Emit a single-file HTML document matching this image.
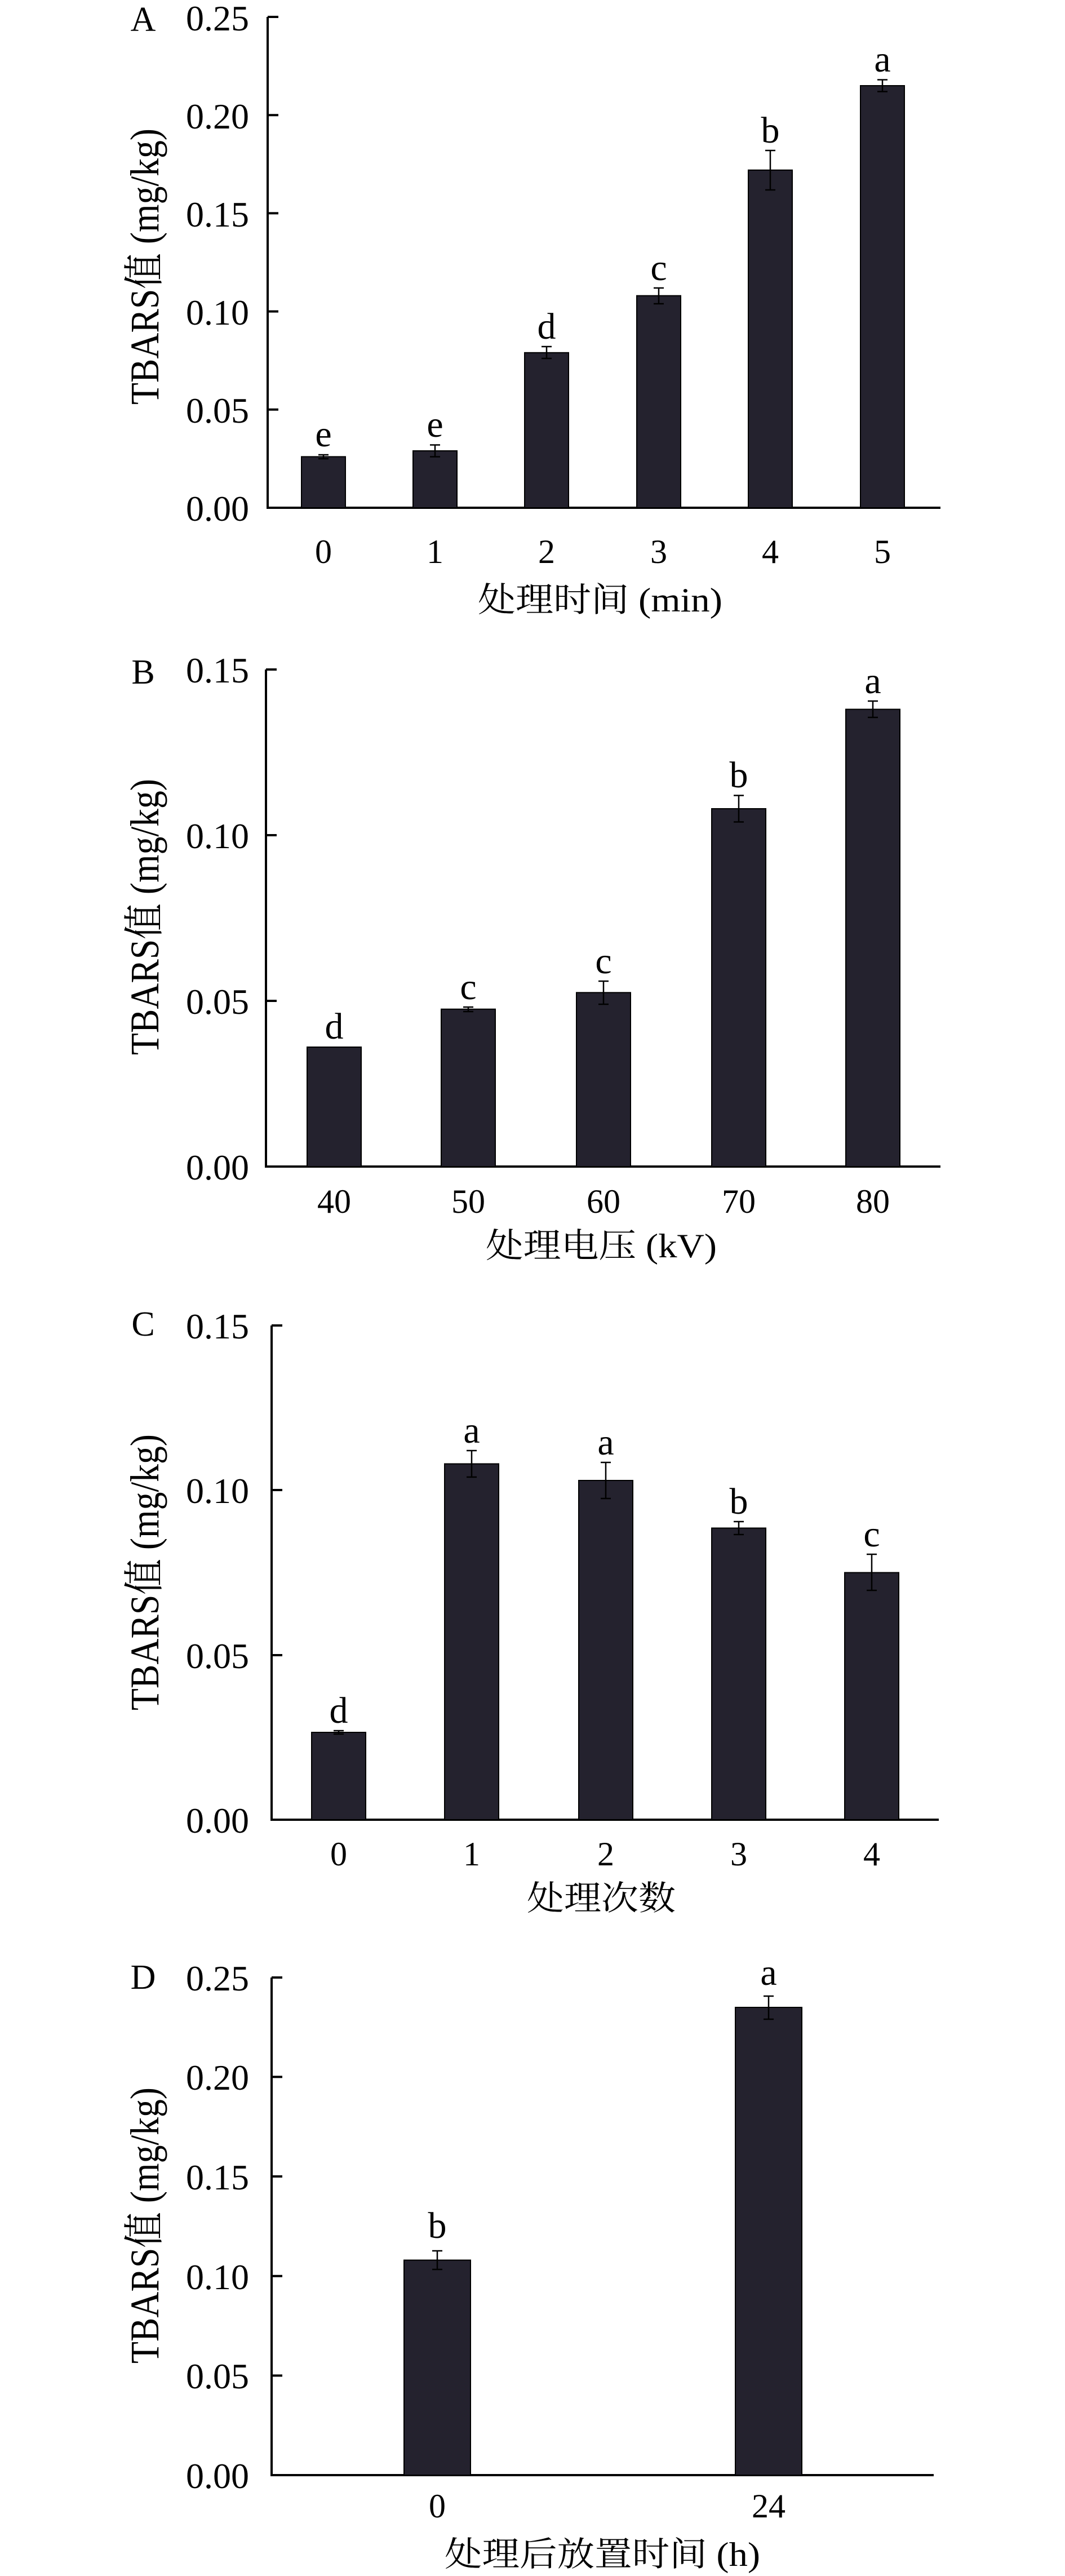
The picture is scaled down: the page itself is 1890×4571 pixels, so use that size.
<!DOCTYPE html>
<html><head><meta charset="utf-8"><style>
html,body{margin:0;padding:0;background:#fff}
svg{display:block}
text{font-family:"Liberation Serif","Noto Serif CJK SC","Noto Sans CJK SC",serif;fill:#000}
.t{font-size:64px;text-anchor:end}
.x{font-size:60px;text-anchor:middle}
.l{font-size:66px;text-anchor:middle}
.p{font-size:62px;text-anchor:middle}
.xl{font-size:60px;text-anchor:middle}
.yl{font-size:72px;text-anchor:middle}
.b{fill:#24222e;stroke:#000;stroke-width:2}
.ax{stroke:#000;stroke-width:4;fill:none}
.e{stroke:#000;stroke-width:2.5;fill:none}
</style></head><body>
<svg width="1890" height="4571" viewBox="0 0 1890 4571" xmlns="http://www.w3.org/2000/svg">
<!-- Panel A -->
<g>
<path class="ax" d="M475 30 V901 H1669 M475 30 H494 M475 204.2 H494 M475 378.4 H494 M475 552.6 H494 M475 726.8 H494"/>
<text class="t" x="442" y="54">0.25</text>
<text class="t" x="442" y="228">0.20</text>
<text class="t" x="442" y="402">0.15</text>
<text class="t" x="442" y="576">0.10</text>
<text class="t" x="442" y="750">0.05</text>
<text class="t" x="442" y="924">0.00</text>
<text class="p" x="254" y="55">A</text>
<text class="yl" transform="translate(281,473) rotate(-90)" textLength="490" lengthAdjust="spacingAndGlyphs">TBARS值 (mg/kg)</text>
<rect class="b" x="535" y="810.4" width="78" height="90.6"/>
<rect class="b" x="733" y="800" width="78" height="101"/>
<rect class="b" x="931" y="625.8" width="78" height="275.2"/>
<rect class="b" x="1130" y="524.7" width="78" height="376.3"/>
<rect class="b" x="1328" y="301.8" width="78" height="599.2"/>
<rect class="b" x="1527" y="152" width="78" height="749"/>
<path class="e" d="M574 807V814M565 807H583M565 814H583 M772 789.5V810.5M763 789.5H781M763 810.5H781 M970 615V636M961 615H979M961 636H979 M1169 511V539M1160 511H1178M1160 539H1178 M1367 267V337M1358 267H1376M1358 337H1376 M1566 141.5V162.5M1557 141.5H1575M1557 162.5H1575"/>
<text class="l" x="574" y="792">e</text>
<text class="l" x="772" y="775">e</text>
<text class="l" x="970" y="601">d</text>
<text class="l" x="1169" y="497">c</text>
<text class="l" x="1367" y="253">b</text>
<text class="l" x="1566" y="127">a</text>
<text class="x" x="574" y="999">0</text>
<text class="x" x="772" y="999">1</text>
<text class="x" x="970" y="999">2</text>
<text class="x" x="1169" y="999">3</text>
<text class="x" x="1367" y="999">4</text>
<text class="x" x="1566" y="999">5</text>
<text class="xl" x="1065" y="1085" textLength="434" lengthAdjust="spacingAndGlyphs">处理时间 (min)</text>
</g>
<!-- Panel B -->
<g>
<path class="ax" d="M472 1188 V2070 H1669 M472 1188 H491 M472 1482 H491 M472 1776 H491"/>
<text class="t" x="442" y="1211">0.15</text>
<text class="t" x="442" y="1505">0.10</text>
<text class="t" x="442" y="1799">0.05</text>
<text class="t" x="442" y="2093">0.00</text>
<text class="p" x="254" y="1213">B</text>
<text class="yl" transform="translate(281,1627) rotate(-90)" textLength="490" lengthAdjust="spacingAndGlyphs">TBARS值 (mg/kg)</text>
<rect class="b" x="545" y="1858" width="96" height="212"/>
<rect class="b" x="783" y="1790.7" width="96" height="279.3"/>
<rect class="b" x="1023" y="1761.3" width="96" height="308.7"/>
<rect class="b" x="1263" y="1435" width="96" height="635"/>
<rect class="b" x="1501" y="1258.6" width="96" height="811.4"/>
<path class="e" d="M831 1787V1795M822 1787H840M822 1795H840 M1071 1741V1782M1062 1741H1080M1062 1782H1080 M1311 1411.5V1458.5M1302 1411.5H1320M1302 1458.5H1320 M1549 1244V1273M1540 1244H1558M1540 1273H1558"/>
<text class="l" x="593" y="1843">d</text>
<text class="l" x="831" y="1773">c</text>
<text class="l" x="1071" y="1727">c</text>
<text class="l" x="1311" y="1397">b</text>
<text class="l" x="1549" y="1230">a</text>
<text class="x" x="593" y="2152">40</text>
<text class="x" x="831" y="2152">50</text>
<text class="x" x="1071" y="2152">60</text>
<text class="x" x="1311" y="2152">70</text>
<text class="x" x="1549" y="2152">80</text>
<text class="xl" x="1067" y="2231" textLength="410" lengthAdjust="spacingAndGlyphs">处理电压 (kV)</text>
</g>
<!-- Panel C -->
<g>
<path class="ax" d="M482 2352 V3229 H1666 M482 2352 H501 M482 2644 H501 M482 2937 H501"/>
<text class="t" x="442" y="2375">0.15</text>
<text class="t" x="442" y="2667">0.10</text>
<text class="t" x="442" y="2960">0.05</text>
<text class="t" x="442" y="3252">0.00</text>
<text class="p" x="254" y="2370">C</text>
<text class="yl" transform="translate(281,2790) rotate(-90)" textLength="490" lengthAdjust="spacingAndGlyphs">TBARS值 (mg/kg)</text>
<rect class="b" x="553" y="3074" width="96" height="155"/>
<rect class="b" x="789" y="2597.5" width="96" height="631.5"/>
<rect class="b" x="1027" y="2627" width="96" height="602"/>
<rect class="b" x="1263" y="2711.5" width="96" height="517.5"/>
<rect class="b" x="1499" y="2790.5" width="96" height="438.5"/>
<path class="e" d="M601 3071V3077M592 3071H610M592 3077H610 M837 2574V2621M828 2574H846M828 2621H846 M1075 2595V2659M1066 2595H1084M1066 2659H1084 M1311 2700V2723M1302 2700H1320M1302 2723H1320 M1547 2758V2822M1538 2758H1556M1538 2822H1556"/>
<text class="l" x="601" y="3057">d</text>
<text class="l" x="837" y="2560">a</text>
<text class="l" x="1075" y="2581">a</text>
<text class="l" x="1311" y="2686">b</text>
<text class="l" x="1547" y="2744">c</text>
<text class="x" x="601" y="3310">0</text>
<text class="x" x="837" y="3310">1</text>
<text class="x" x="1075" y="3310">2</text>
<text class="x" x="1311" y="3310">3</text>
<text class="x" x="1547" y="3310">4</text>
<text class="xl" x="1067" y="3389" textLength="264" lengthAdjust="spacingAndGlyphs">处理次数</text>
</g>
<!-- Panel D -->
<g>
<path class="ax" d="M482 3509 V4392 H1657 M482 3509 H501 M482 3685.4 H501 M482 3862 H501 M482 4038.8 H501 M482 4215.4 H501"/>
<text class="t" x="442" y="3532">0.25</text>
<text class="t" x="442" y="3708">0.20</text>
<text class="t" x="442" y="3885">0.15</text>
<text class="t" x="442" y="4062">0.10</text>
<text class="t" x="442" y="4238">0.05</text>
<text class="t" x="442" y="4415">0.00</text>
<text class="p" x="254" y="3529">D</text>
<text class="yl" transform="translate(281,3949) rotate(-90)" textLength="490" lengthAdjust="spacingAndGlyphs">TBARS值 (mg/kg)</text>
<rect class="b" x="717" y="4010.5" width="118" height="381.5"/>
<rect class="b" x="1305" y="3562" width="118" height="830"/>
<path class="e" d="M776 3994V4027M767 3994H785M767 4027H785 M1364 3542V3583M1355 3542H1373M1355 3583H1373"/>
<text class="l" x="776" y="3971">b</text>
<text class="l" x="1364" y="3522">a</text>
<text class="x" x="776" y="4467">0</text>
<text class="x" x="1364" y="4467">24</text>
<text class="xl" x="1069" y="4553" textLength="560" lengthAdjust="spacingAndGlyphs">处理后放置时间 (h)</text>
</g>
</svg>
</body></html>
